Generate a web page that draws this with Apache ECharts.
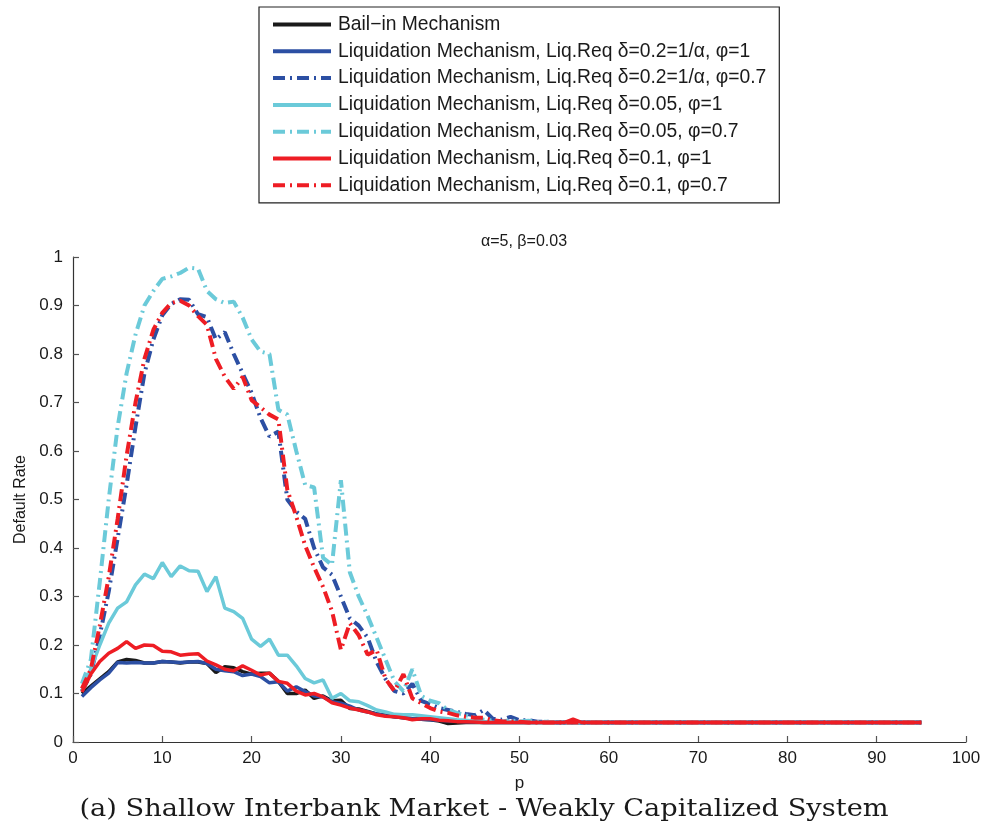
<!DOCTYPE html>
<html>
<head>
<meta charset="utf-8">
<script src="https://cdn.jsdelivr.net/npm/echarts/dist/echarts.min.js"></script>
<style>
  html, body { margin: 0; padding: 0; background: #fff; }
  #chart { width: 988px; height: 829px; }
</style>
</head>
<body>
<div id="chart"></div>
<script>
// p = 1..95
var p = [1,2,3,4,5,6,7,8,9,10,11,12,13,14,15,16,17,18,19,20,
  21,22,23,24,25,26,27,28,29,30,31,32,33,34,35,36,37,38,39,40,
  41,42,43,44,45,46,47,48,49,50,51,52,53,54,55,56,57,58,59,60,
  61,62,63,64,65,66,67,68,69,70,71,72,73,74,75,76,77,78,79,80,
  81,82,83,84,85,86,87,88,89,90,91,92,93,94,95]

// Bail-in Mechanism
var bailIn = [0.100,0.115,0.130,0.145,0.165,0.170,0.168,0.163,0.163,0.166,
  0.165,0.163,0.165,0.165,0.162,0.143,0.155,0.153,0.145,0.140,
  0.142,0.142,0.125,0.100,0.100,0.107,0.090,0.095,0.085,0.086,
  0.069,0.068,0.063,0.058,0.055,0.052,0.050,0.048,0.047,0.046,
  0.043,0.038,0.039,0.040,0.040,0.040,0.040,0.040,0.040,0.040,
  0.040,0.040,0.040,0.040,0.040,0.040,0.040,0.040,0.040,0.040,
  0.040,0.040,0.040,0.040,0.040,0.040,0.040,0.040,0.040,0.040,
  0.040,0.040,0.040,0.040,0.040,0.040,0.040,0.040,0.040,0.040,
  0.040,0.040,0.040,0.040,0.040,0.040,0.040,0.040,0.040,0.040,
  0.040,0.040,0.040,0.040,0.040]

// delta=0.2, phi=1
var liq02 = [0.094,0.112,0.128,0.142,0.164,0.163,0.164,0.163,0.163,0.166,
  0.165,0.164,0.165,0.166,0.162,0.150,0.147,0.145,0.137,0.140,
  0.135,0.122,0.124,0.105,0.114,0.104,0.095,0.093,0.083,0.080,
  0.074,0.066,0.062,0.058,0.054,0.052,0.050,0.048,0.047,0.046,
  0.045,0.044,0.043,0.042,0.041,0.040,0.040,0.040,0.040,0.040,
  0.040,0.040,0.040,0.040,0.040,0.040,0.040,0.040,0.040,0.040,
  0.040,0.040,0.040,0.040,0.040,0.040,0.040,0.040,0.040,0.040,
  0.040,0.040,0.040,0.040,0.040,0.040,0.040,0.040,0.040,0.040,
  0.040,0.040,0.040,0.040,0.040,0.040,0.040,0.040,0.040,0.040,
  0.040,0.040,0.040,0.040,0.040]

// delta=0.2, phi=0.7
var liq02d = [0.105,0.140,0.220,0.310,0.420,0.530,0.650,0.760,0.830,0.880,
  0.903,0.913,0.912,0.882,0.876,0.830,0.845,0.800,0.760,0.720,
  0.668,0.630,0.640,0.500,0.475,0.460,0.400,0.360,0.345,0.300,
  0.255,0.240,0.215,0.165,0.130,0.105,0.100,0.120,0.085,0.078,
  0.070,0.066,0.062,0.058,0.055,0.066,0.048,0.046,0.052,0.045,
  0.045,0.042,0.042,0.040,0.040,0.040,0.040,0.040,0.040,0.040,
  0.040,0.040,0.040,0.040,0.040,0.040,0.040,0.040,0.040,0.040,
  0.040,0.040,0.040,0.040,0.040,0.040,0.040,0.040,0.040,0.040,
  0.040,0.040,0.040,0.040,0.040,0.040,0.040,0.040,0.040,0.040,
  0.040,0.040,0.040,0.040,0.040]

// delta=0.05, phi=1
var liq005 = [0.105,0.150,0.200,0.245,0.276,0.289,0.324,0.346,0.337,0.370,
  0.341,0.363,0.353,0.352,0.310,0.341,0.276,0.269,0.255,0.212,
  0.197,0.212,0.179,0.179,0.157,0.131,0.122,0.128,0.090,0.100,
  0.085,0.083,0.075,0.066,0.062,0.057,0.056,0.056,0.054,0.052,
  0.050,0.048,0.046,0.045,0.043,0.042,0.040,0.040,0.040,0.040,
  0.040,0.040,0.040,0.040,0.040,0.040,0.040,0.040,0.040,0.040,
  0.040,0.040,0.040,0.040,0.040,0.040,0.040,0.040,0.040,0.040,
  0.040,0.040,0.040,0.040,0.040,0.040,0.040,0.040,0.040,0.040,
  0.040,0.040,0.040,0.040,0.040,0.040,0.040,0.040,0.040,0.040,
  0.040,0.040,0.040,0.040,0.040]

// delta=0.05, phi=0.7
var liq005d = [0.120,0.170,0.330,0.500,0.650,0.760,0.840,0.900,0.930,0.955,
  0.960,0.967,0.978,0.976,0.930,0.913,0.905,0.908,0.875,0.830,
  0.805,0.800,0.685,0.675,0.600,0.530,0.525,0.380,0.365,0.540,
  0.350,0.300,0.260,0.215,0.170,0.125,0.105,0.150,0.095,0.085,
  0.080,0.066,0.060,0.055,0.050,0.046,0.044,0.042,0.045,0.042,
  0.044,0.041,0.042,0.040,0.040,0.040,0.040,0.040,0.040,0.040,
  0.040,0.040,0.040,0.040,0.040,0.040,0.040,0.040,0.040,0.040,
  0.040,0.040,0.040,0.040,0.040,0.040,0.040,0.040,0.040,0.040,
  0.040,0.040,0.040,0.040,0.040,0.040,0.040,0.040,0.040,0.040,
  0.040,0.040,0.040,0.040,0.040]

// delta=0.1, phi=1
var liq01 = [0.103,0.140,0.166,0.183,0.193,0.207,0.193,0.200,0.199,0.187,
  0.186,0.179,0.181,0.182,0.167,0.159,0.150,0.147,0.157,0.148,
  0.138,0.142,0.125,0.121,0.105,0.097,0.100,0.093,0.081,0.076,
  0.070,0.066,0.062,0.056,0.053,0.052,0.050,0.046,0.048,0.048,
  0.045,0.044,0.042,0.042,0.041,0.040,0.040,0.040,0.040,0.040,
  0.040,0.040,0.040,0.040,0.040,0.047,0.040,0.040,0.040,0.040,
  0.040,0.040,0.040,0.040,0.040,0.040,0.040,0.040,0.040,0.040,
  0.040,0.040,0.040,0.040,0.040,0.040,0.040,0.040,0.040,0.040,
  0.040,0.040,0.040,0.040,0.040,0.040,0.040,0.040,0.040,0.040,
  0.040,0.040,0.040,0.040,0.040]

// delta=0.1, phi=0.7
var liq01d = [0.110,0.150,0.240,0.340,0.460,0.590,0.700,0.790,0.850,0.885,
  0.905,0.910,0.900,0.878,0.860,0.790,0.753,0.728,0.753,0.705,
  0.690,0.675,0.665,0.520,0.465,0.405,0.360,0.320,0.270,0.190,
  0.245,0.220,0.180,0.190,0.130,0.105,0.140,0.090,0.080,0.070,
  0.063,0.060,0.055,0.052,0.050,0.050,0.045,0.043,0.042,0.042,
  0.040,0.040,0.040,0.040,0.040,0.040,0.040,0.040,0.040,0.040,
  0.040,0.040,0.040,0.040,0.040,0.040,0.040,0.040,0.040,0.040,
  0.040,0.040,0.040,0.040,0.040,0.040,0.040,0.040,0.040,0.040,
  0.040,0.040,0.040,0.040,0.040,0.040,0.040,0.040,0.040,0.040,
  0.040,0.040,0.040,0.040,0.040]

var names = [
  'Bail\u2212in Mechanism',
  'Liquidation Mechanism, Liq.Req \u03b4=0.2=1/\u03b1, \u03c6=1',
  'Liquidation Mechanism, Liq.Req \u03b4=0.2=1/\u03b1, \u03c6=0.7',
  'Liquidation Mechanism, Liq.Req \u03b4=0.05, \u03c6=1',
  'Liquidation Mechanism, Liq.Req \u03b4=0.05, \u03c6=0.7',
  'Liquidation Mechanism, Liq.Req \u03b4=0.1, \u03c6=1',
  'Liquidation Mechanism, Liq.Req \u03b4=0.1, \u03c6=0.7'
]
var values = [bailIn, liq02, liq02d, liq005, liq005d, liq01, liq01d]
var colors = ['#1a1a1a', '#2c4fa3', '#2c4fa3', '#6bcad9', '#6bcad9', '#ee1d24', '#ee1d24']
var dashed = [false, false, true, false, true, false, true]

function pairs(ys) {
  return p.map(function(x, i) { return [x, ys[i]] })
}

var font = 'Liberation Sans, Arial, sans-serif'

var chart = echarts.init(document.getElementById('chart'))
chart.setOption({
  animation: false,
  backgroundColor: '#fff',
  textStyle: { fontFamily: font },
  title: {
    text: '\u03b1=5, \u03b2=0.03',
    left: 519, top: 229, textAlign: 'center',
    textStyle: { fontFamily: font, fontSize: 16, fontWeight: 'normal', color: '#1a1a1a' }
  },
  // figure caption, stretched a little to the width of the original
  graphic: [{
    type: 'text',
    x: 484, y: 810,
    scaleX: 1.135,
    style: {
      text: '(a) Shallow Interbank Market - Weakly Capitalized System',
      font: '24px "DejaVu Serif", serif',
      fill: '#1a1a1a',
      align: 'center',
      verticalAlign: 'middle'
    }
  }],
  legend: {
    orient: 'vertical',
    left: 259, top: 7,
    padding: [8, 13, 8, 12],
    itemWidth: 58,
    itemHeight: 12,
    itemGap: 7.8,
    borderColor: '#222',
    borderWidth: 1.2,
    borderRadius: 0,
    backgroundColor: '#fff',
    itemStyle: { opacity: 0 },
    lineStyle: { width: 4 },
    textStyle: { fontFamily: font, fontSize: 19.3, color: '#1a1a1a', padding: [0, 0, 0, 2] },
    data: names
  },
  grid: { left: 73, right: 22, top: 257, bottom: 87, containLabel: false },
  xAxis: {
    type: 'value', min: 0, max: 100, interval: 10,
    name: 'p', nameLocation: 'middle', nameGap: 33,
    nameTextStyle: { fontFamily: font, fontSize: 17, color: '#1a1a1a' },
    axisLine: { lineStyle: { color: '#333', width: 1.2 } },
    axisTick: { inside: true, length: 6, lineStyle: { color: '#555', width: 1.2 } },
    axisLabel: { fontFamily: font, fontSize: 17, color: '#1a1a1a', margin: 8 },
    splitLine: { show: false }
  },
  yAxis: {
    type: 'value', min: 0, max: 1, interval: 0.1,
    name: 'Default Rate', nameLocation: 'middle', nameGap: 42,
    nameTextStyle: { fontFamily: font, fontSize: 16, color: '#1a1a1a' },
    axisLine: { show: true, lineStyle: { color: '#333', width: 1.2 } },
    axisTick: { show: true, inside: true, length: 6, lineStyle: { color: '#555', width: 1.2 } },
    axisLabel: { fontFamily: font, fontSize: 17, color: '#1a1a1a', margin: 10 },
    splitLine: { show: false }
  },
  series: names.map(function(n, i) {
    return {
      name: n,
      type: 'line',
      data: pairs(values[i]),
      symbol: 'none',
      color: colors[i],
      lineStyle: {
        color: colors[i],
        width: dashed[i] ? 4 : 3.5,
        type: dashed[i] ? [12, 5, 2, 5] : 'solid'
      },
      z: 2 + i
    }
  })
})
</script>
</body>
</html>
